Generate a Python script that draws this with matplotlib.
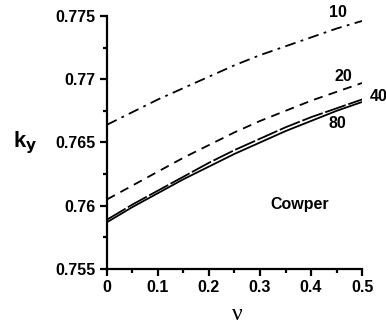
import matplotlib
matplotlib.use('Agg')
import matplotlib.pyplot as plt
from matplotlib.ticker import MultipleLocator, FixedFormatter, FixedLocator

nu = [0.0, 0.05, 0.1, 0.15, 0.2, 0.25, 0.3, 0.35, 0.4, 0.45, 0.5]
k10 = [0.7664, 0.7674, 0.7684, 0.7693, 0.7702, 0.7711, 0.7719, 0.7726, 0.7733, 0.7740, 0.7746]
k20 = [0.7605, 0.7616, 0.7627, 0.7638, 0.7648, 0.7658, 0.7667, 0.7675, 0.7683, 0.7690, 0.7697]
k40 = [0.7589, 0.7601, 0.7612, 0.7623, 0.7634, 0.7644, 0.7653, 0.7662, 0.7670, 0.7677, 0.7684]
k80 = [0.7587, 0.7599, 0.7610, 0.7621, 0.7631, 0.7641, 0.7650, 0.7659, 0.7667, 0.7675, 0.7682]

xticks = [0, 0.1, 0.2, 0.3, 0.4, 0.5]
xticklabels = ['0', '0.1', '0.2', '0.3', '0.4', '0.5']
yticks = [0.755, 0.76, 0.765, 0.77, 0.775]
yticklabels = ['0.755', '0.76', '0.765', '0.77', '0.775']

plt.rcParams['font.family'] = ['Liberation Sans', 'DejaVu Sans']

fig = plt.figure(figsize=(3.86, 3.31), dpi=100)
ax = fig.add_axes([0.277, 0.187, 0.661, 0.765])

ax.plot(nu, k10, color='black', lw=1.3, linestyle=(0, (6, 3, 1.5, 3)))
ax.plot(nu, k20, color='black', lw=1.3, linestyle=(0, (5, 3.5)))
ax.plot(nu, k40, color='black', lw=1.3, linestyle=(0, (12, 1.5)))
ax.plot(nu, k80, color='black', lw=1.3, linestyle='-')

fs = 11.5
ax.text(0.453, 0.7753, '10', fontsize=fs, fontweight='bold', ha='center', va='center')
ax.text(0.463, 0.7702, '20', fontsize=fs, fontweight='bold', ha='center', va='center')
ax.text(0.532, 0.7686, '40', fontsize=fs, fontweight='bold', ha='center', va='center', clip_on=False)
ax.text(0.451, 0.7665, '80', fontsize=fs, fontweight='bold', ha='center', va='center')
ax.text(0.378, 0.7601, 'Cowper', fontsize=fs, fontweight='bold', ha='center', va='center')

ax.set_xlim(0, 0.5)
ax.set_ylim(0.755, 0.775)
ax.xaxis.set_major_locator(FixedLocator(xticks))
ax.xaxis.set_major_formatter(FixedFormatter(xticklabels))
ax.yaxis.set_major_locator(FixedLocator(yticks))
ax.yaxis.set_major_formatter(FixedFormatter(yticklabels))
ax.xaxis.set_minor_locator(MultipleLocator(0.05))
ax.yaxis.set_minor_locator(MultipleLocator(0.0025))

for s in ['top', 'right']:
    ax.spines[s].set_visible(False)
for s in ['left', 'bottom']:
    ax.spines[s].set_linewidth(1.6)

ax.tick_params(which='major', direction='out', length=5, width=1.6, labelsize=fs, pad=3)
ax.tick_params(which='minor', direction='out', length=3, width=1.6)
for lab in ax.get_xticklabels() + ax.get_yticklabels():
    lab.set_fontweight('bold')

ax.set_xlabel('ν', fontsize=17, family='Liberation Serif', va='center')
ax.xaxis.set_label_coords(0.51, -0.18)
ax.set_ylabel('k$_\\mathbf{y}$', fontsize=16, fontweight='bold', rotation=0, va='center', ha='center')
ax.yaxis.set_label_coords(-0.32, 0.5)

fig.savefig('out.png', dpi=100)
